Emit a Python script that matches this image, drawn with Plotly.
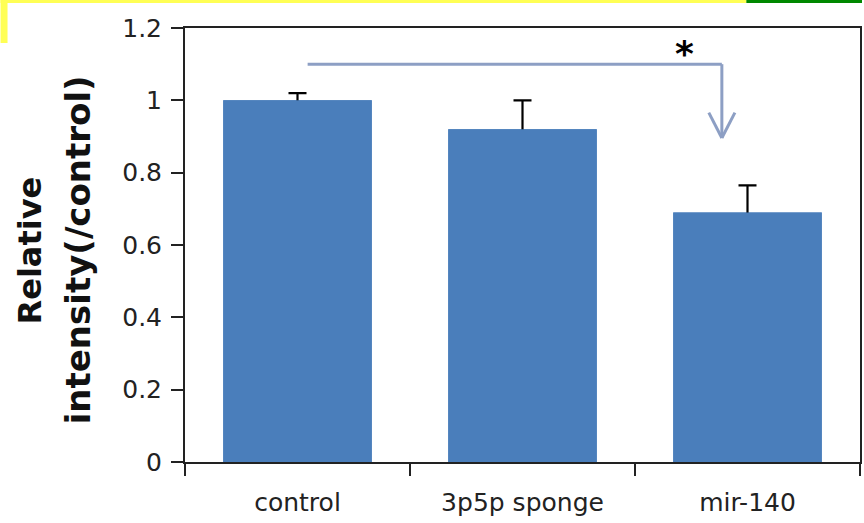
import plotly.graph_objects as go

categories = ["control", "3p5p sponge", "mir-140"]
values = [1.00, 0.92, 0.69]
errors = [0.02, 0.08, 0.075]
y_ticks = [0, 0.2, 0.4, 0.6, 0.8, 1, 1.2]
y_tick_labels = ["0", "0.2", "0.4", "0.6", "0.8", "1", "1.2"]

# significance bracket (category-index x, data y)
bracket_x = [0.045, 1.886, 1.886]
bracket_y = [1.10, 1.10, 0.896]
star_pos = (1.72, 1.13)

W, H = 864, 523
L, R, T, B = 185, 2, 28, 61
pw, ph = W - L - R, H - T - B

def px_to_paper(x, y):
    return (x - L) / pw, (H - B - y) / ph

bar_color = "#4a7ebb"
line_color = "#8d9fc4"
axis_color = "#222222"

fig = go.Figure()
# bars carrying symmetric error bars (lower half will be hidden by the next trace)
fig.add_trace(go.Bar(
    x=categories, y=values,
    marker=dict(color=bar_color, line=dict(width=0)),
    error_y=dict(type="data", array=errors, color="black", thickness=2.2, width=9),
    showlegend=False, hoverinfo="skip",
))
# identical bars drawn on top to cover the lower half of the error bars
fig.add_trace(go.Bar(
    x=categories, y=values,
    marker=dict(color=bar_color, line=dict(width=0)),
    showlegend=False,
))

shapes = []
for i in range(len(bracket_x) - 1):
    shapes.append(dict(type="line", xref="x", yref="y",
                       x0=bracket_x[i], y0=bracket_y[i],
                       x1=bracket_x[i + 1], y1=bracket_y[i + 1],
                       line=dict(color=line_color, width=3)))
tip_x, tip_y = bracket_x[-1], bracket_y[-1]
for dx in (-0.058, 0.058):
    shapes.append(dict(type="line", xref="x", yref="y",
                       x0=tip_x + dx, y0=tip_y + 0.07, x1=tip_x, y1=tip_y,
                       line=dict(color=line_color, width=3)))

def band(x0, y0, x1, y1, color):
    a0, b0 = px_to_paper(x0, y1)
    a1, b1 = px_to_paper(x1, y0)
    return dict(type="rect", xref="paper", yref="paper", x0=a0, y0=b0, x1=a1, y1=b1,
                fillcolor=color, line=dict(width=0), layer="above")

shapes.append(band(0, 0, 748, 3, "#ffff55"))
shapes.append(band(0, 0, 7, 43, "#ffff55"))
shapes.append(band(748, 0, 864, 3, "#008800"))

annotations = [
    dict(x=star_pos[0], y=star_pos[1], xref="x", yref="y", text="<b>*</b>",
         showarrow=False, font=dict(family="DejaVu Sans", size=36, color="black"),
         xanchor="center", yanchor="middle"),
]
ax1, ay = px_to_paper(30, 250)
ax2, _ = px_to_paper(78, 248)
annotations.append(dict(x=ax1, y=ay, xref="paper", yref="paper", text="<b>Relative</b>",
                        textangle=-90, showarrow=False, xanchor="center", yanchor="middle",
                        font=dict(family="DejaVu Sans", size=32, color="#111111")))
annotations.append(dict(x=ax2, y=ay, xref="paper", yref="paper",
                        text="<b>intensity(/control)</b>",
                        textangle=-90, showarrow=False, xanchor="center", yanchor="middle",
                        font=dict(family="DejaVu Sans", size=34, color="#111111")))

fig.update_layout(
    width=W, height=H,
    margin=dict(l=L, r=R, t=T, b=B),
    paper_bgcolor="white", plot_bgcolor="white",
    barmode="overlay", bargap=0.34,
    shapes=shapes, annotations=annotations,
    xaxis=dict(
        type="category", range=[-0.5, 2.5],
        showline=True, linecolor=axis_color, linewidth=2, mirror=True,
        ticks="outside", tickson="boundaries", ticklen=12, tickwidth=2, tickcolor=axis_color,
        ticklabelstandoff=17,
        tickfont=dict(family="DejaVu Sans", size=25, color="#222222"),
        showgrid=False, zeroline=False,
    ),
    yaxis=dict(
        range=[0, 1.2], tickvals=y_ticks, ticktext=y_tick_labels,
        showline=True, linecolor=axis_color, linewidth=2, mirror=True,
        ticks="outside", ticklen=12, tickwidth=2, tickcolor=axis_color,
        ticklabelstandoff=4,
        tickfont=dict(family="DejaVu Sans", size=25, color="#222222"),
        showgrid=False, zeroline=False,
    ),
)

fig.write_html("out.html", config={"displayModeBar": False},
               post_script="document.body.style.margin='0';document.body.style.overflow='hidden';")
